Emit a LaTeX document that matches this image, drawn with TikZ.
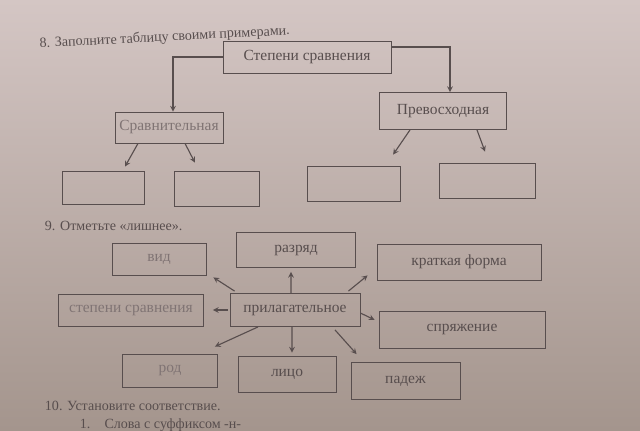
\documentclass[tikz,border=0pt]{standalone}
\usepackage{fontspec}
\setmainfont{Liberation Serif}
\usetikzlibrary{arrows,positioning,calc}
\definecolor{papertop}{RGB}{212,198,196}
\definecolor{paperbot}{RGB}{164,149,141}
\definecolor{ink}{RGB}{88,78,78}
\definecolor{softink}{RGB}{128,116,116}

\begin{document}
\begin{tikzpicture}[
    x=0.25mm, y=-0.25mm,
    box/.style={rectangle, draw=ink, semithick, inner sep=0pt, align=center, text=ink, font=\fontsize{11}{13}\selectfont},
    pale/.style={box, text=softink},
    blank/.style={rectangle, draw=ink, semithick, inner sep=0pt},
    task/.style={anchor=base west, text=ink, font=\fontsize{10}{12}\selectfont},
    arrow/.style={->, >=stealth, thick, draw=ink}
]

% Page
\useasboundingbox (0,0) rectangle (640,430);
\shade[top color=papertop, bottom color=paperbot] (0,0) rectangle (640,430);

% Task 8
\node[task, rotate=3] (task8) at (35,48) {8. Заполните таблицу своими примерами.};
\node[box, minimum width=42mm, minimum height=8mm] (degrees) at (307,57) {Степени сравнения};
\node[pale, minimum width=27mm, minimum height=7.75mm] (compar) at (169,127.5) {Сравнительная};
\node[box, minimum width=31.75mm, minimum height=9.25mm] (superl) at (443,111) {Превосходная};

\node[blank, minimum width=20.5mm, minimum height=8.25mm] (blank1) at (103,187.5) {};
\node[blank, minimum width=21.25mm, minimum height=8.75mm] (blank2) at (216.5,188.5) {};
\node[blank, minimum width=23.25mm, minimum height=8.75mm] (blank3) at (353.5,183.5) {};
\node[blank, minimum width=24mm, minimum height=8.75mm] (blank4) at (487,180.5) {};

\draw[arrow] (degrees.west) -| ([xshift=1mm]compar.north);
\draw[arrow] ([yshift=2.5mm]degrees.east) -| ([xshift=1.75mm]superl.north);
\draw[arrow] ([xshift=-7.75mm]compar.south) -- ([xshift=5.5mm,yshift=1mm]blank1.north);
\draw[arrow] ([xshift=4mm]compar.south) -- ([xshift=-5.4mm,yshift=2mm]blank2.north);
\draw[arrow] ([xshift=-8.25mm]superl.south) -- ([xshift=9.9mm,yshift=2.75mm]blank3.north);
\draw[arrow] ([xshift=8.5mm]superl.south) -- ([xshift=-0.5mm,yshift=2.75mm]blank4.north);

% Task 9
\node[task] (task9) at (40,230) {9. Отметьте «лишнее».};
\node[box, minimum width=32.5mm, minimum height=8.25mm] (adj) at (295,310) {прилагательное};
\node[pale, minimum width=23.5mm, minimum height=8mm] (vid) at (159,259) {вид};
\node[box, minimum width=29.75mm, minimum height=8.75mm] (razryad) at (296,250) {разряд};
\node[box, minimum width=41mm, minimum height=9mm] (short) at (459,262) {краткая форма};
\node[pale, minimum width=36.25mm, minimum height=8mm] (stepeni) at (131,310) {степени сравнения};
\node[box, minimum width=41.5mm, minimum height=9.25mm] (conj) at (462,329.5) {спряжение};
\node[pale, minimum width=23.75mm, minimum height=8.25mm] (rod) at (170,370.5) {род};
\node[box, minimum width=24.5mm, minimum height=9mm] (lico) at (287,374) {лицо};
\node[box, minimum width=27.25mm, minimum height=9.25mm] (padezh) at (405.5,381) {падеж};

\draw[arrow] ([xshift=1.25mm,yshift=0.5mm]adj.north west) -- ([xshift=1.75mm,yshift=-0.5mm]vid.south east);
\draw[arrow] ([xshift=-1mm]adj.north) -- ([xshift=-1.25mm,yshift=-1mm]razryad.south);
\draw[arrow] ([xshift=-3mm,yshift=0.5mm]adj.north east) -- ([xshift=-2.25mm,yshift=1.25mm]short.south west);
\draw[arrow] ([xshift=-0.5mm]adj.west) -- ([xshift=2.25mm]stepeni.east);
\draw[arrow] ([yshift=-0.75mm]adj.east) -- ([xshift=-1mm,yshift=2.4mm]conj.west);
\draw[arrow] ([xshift=-9.25mm]adj.south) -- ([xshift=-0.75mm,yshift=1.75mm]rod.north east);
\draw[arrow] ([xshift=-0.75mm]adj.south) -- ([xshift=1.25mm,yshift=0.75mm]lico.north);
\draw[arrow] ([xshift=10mm,yshift=-0.75mm]adj.south) -- ([xshift=1.5mm,yshift=2mm]padezh.north west);

% Task 10
\node[task] (task10) at (40,410) {10. Установите соответствие.};
\node[task] (item1) at (75,428) {1.\quad Слова с суффиксом -н-};

\end{tikzpicture}
\end{document}
